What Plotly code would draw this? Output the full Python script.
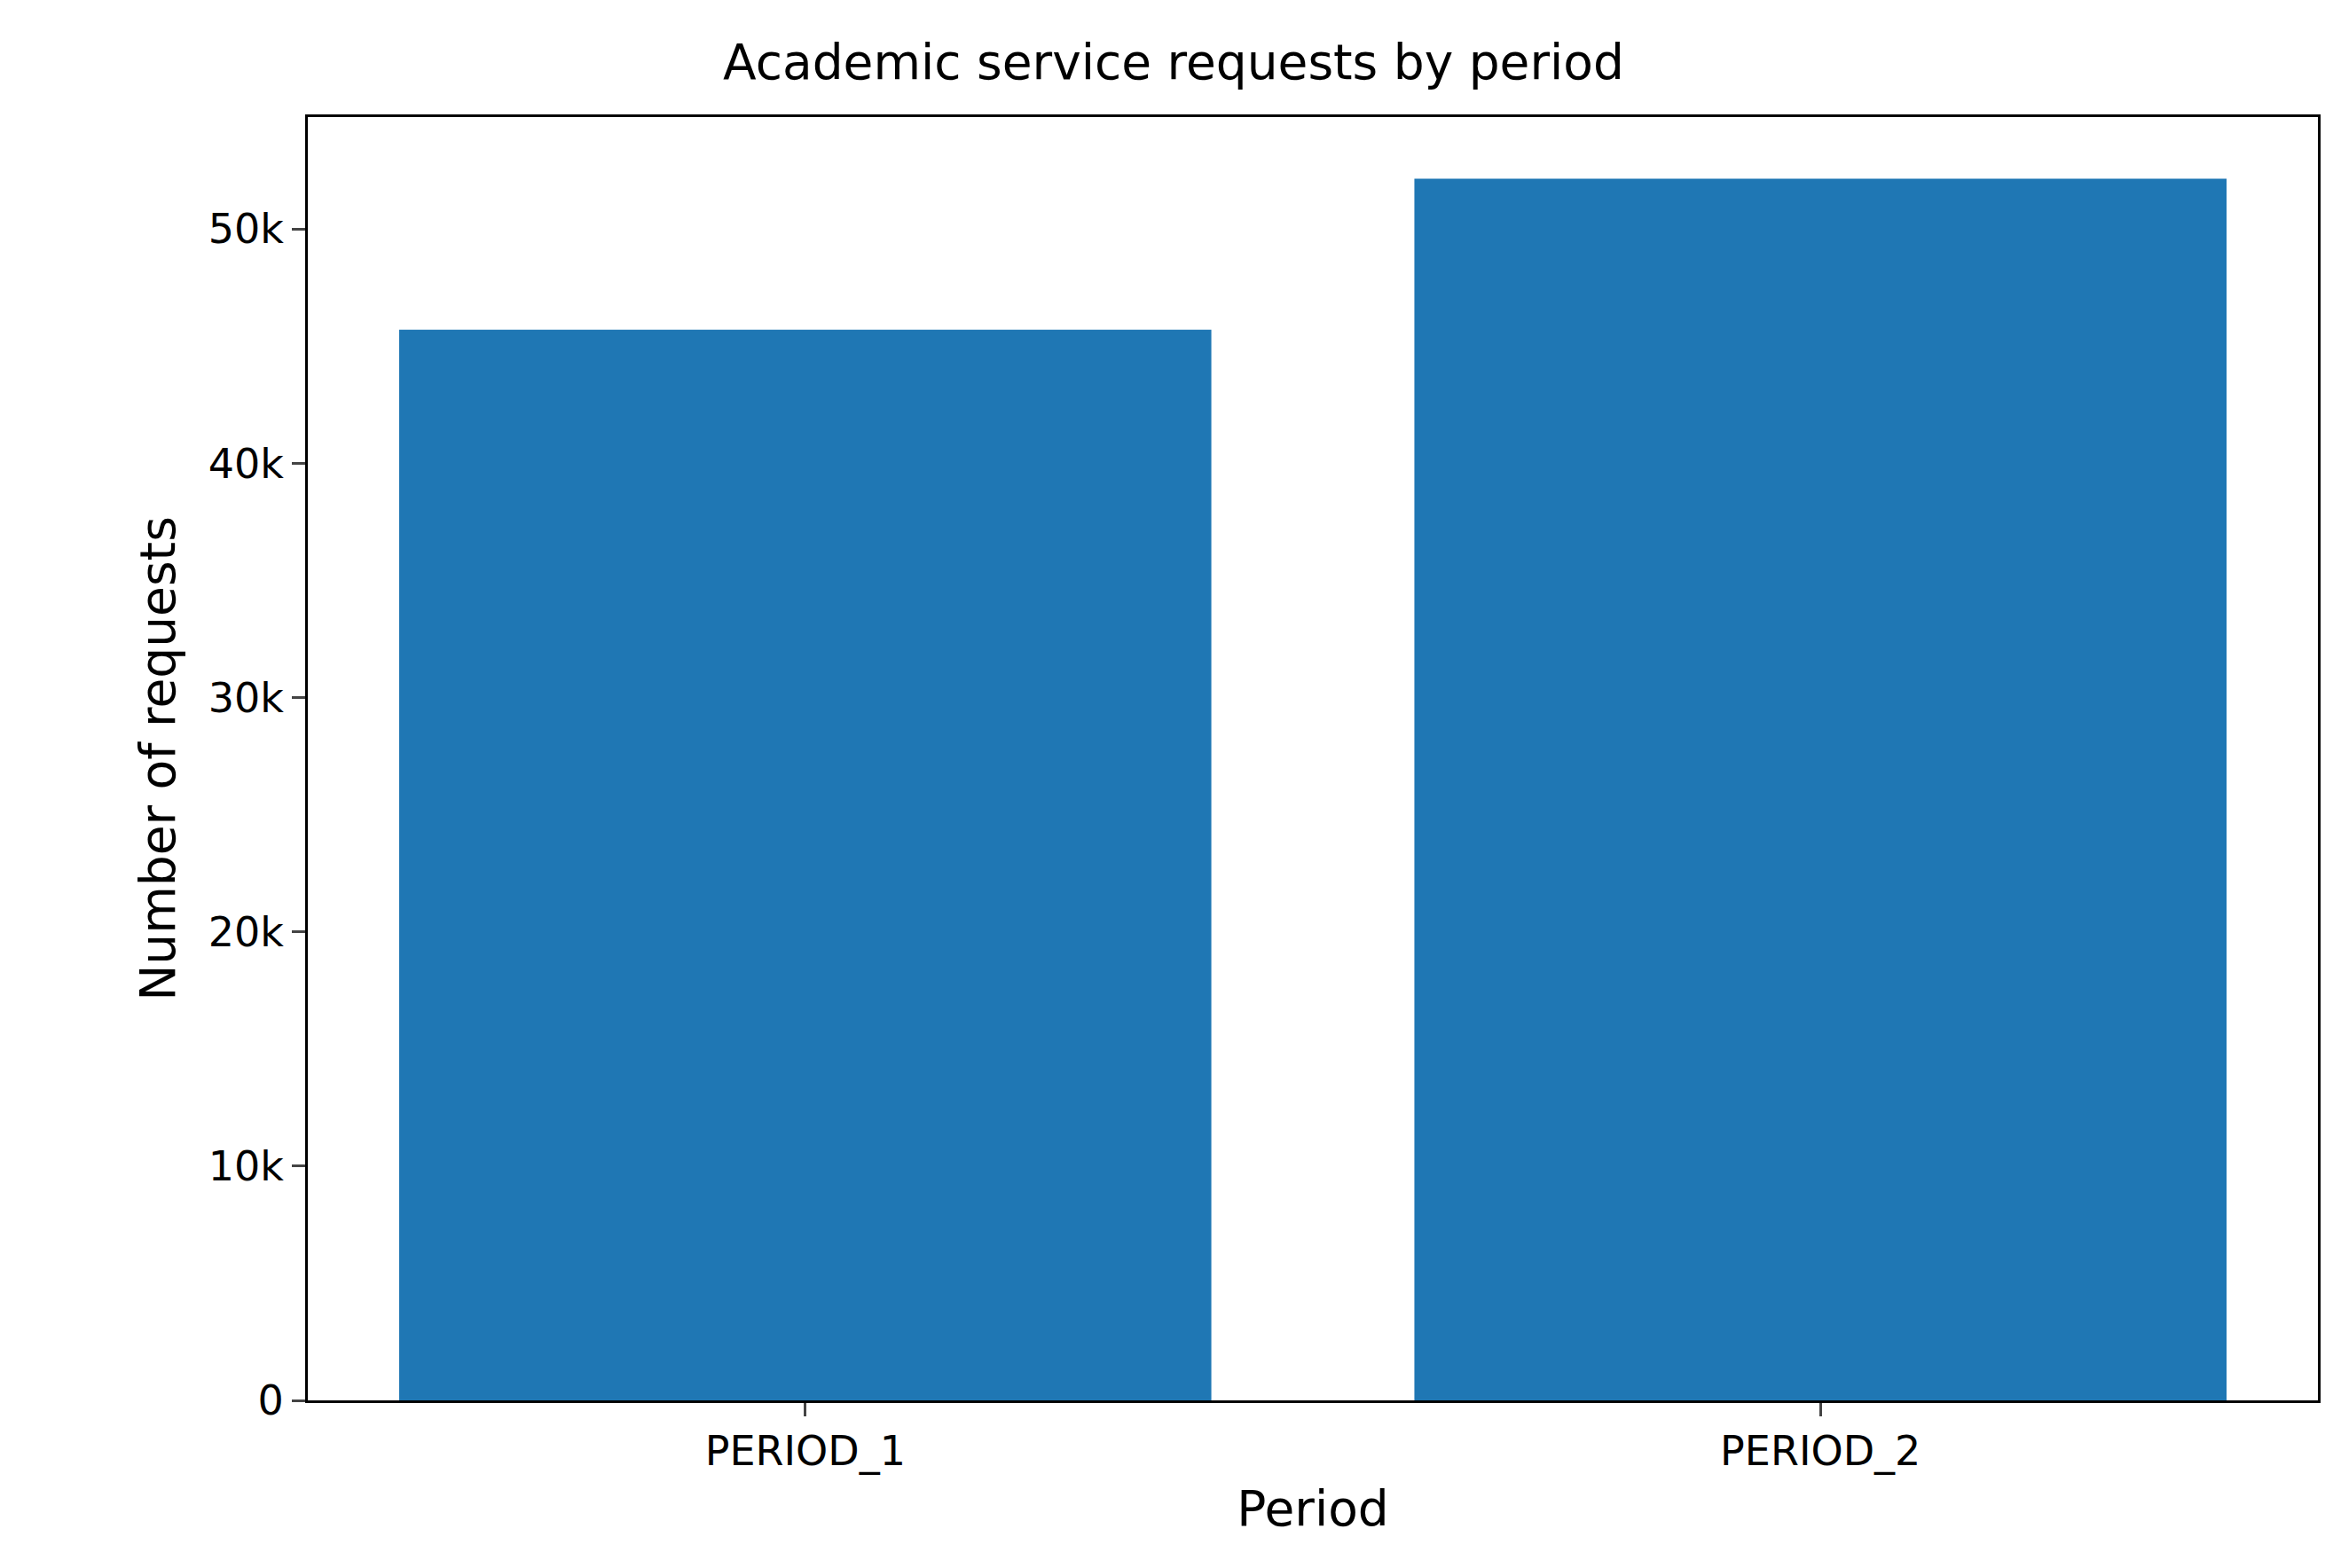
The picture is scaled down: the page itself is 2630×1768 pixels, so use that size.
import plotly.graph_objects as go

# Data
periods = ['PERIOD_1', 'PERIOD_2']
requests = [45700, 52150]
y_ticks = [0, 10000, 20000, 30000, 40000, 50000]

fig = go.Figure()
fig.add_trace(go.Bar(x=[0, 1], y=requests, width=0.8, marker=dict(color='#1f77b4', line=dict(width=0))))

font = dict(family='DejaVu Sans', size=46, color='black')
fig.update_layout(
    width=2630, height=1768,
    margin=dict(l=339, r=25, t=124, b=197),
    paper_bgcolor='white', plot_bgcolor='white',
    font=font, showlegend=False,
    title=dict(text='Academic service requests by period', x=0.5, xanchor='center',
               y=1 - 62 / 1768, yanchor='middle', font=dict(size=55)),
)
fig.update_xaxes(range=[-0.49, 1.49], tickvals=[0, 1], ticktext=periods,
                 ticks='outside', ticklen=15, tickwidth=3, showgrid=False, zeroline=False,
                 showline=True, linewidth=3, linecolor='black', mirror=True,
                 title=dict(text='Period', standoff=20))
fig.update_yaxes(range=[0, 54780], tickvals=y_ticks, ticks='outside', ticklen=15, tickwidth=3,
                 showgrid=False, zeroline=False, showline=True, linewidth=3,
                 linecolor='black', mirror=True,
                 title=dict(text='Number of requests', standoff=20))

fig.write_html('out.html')
